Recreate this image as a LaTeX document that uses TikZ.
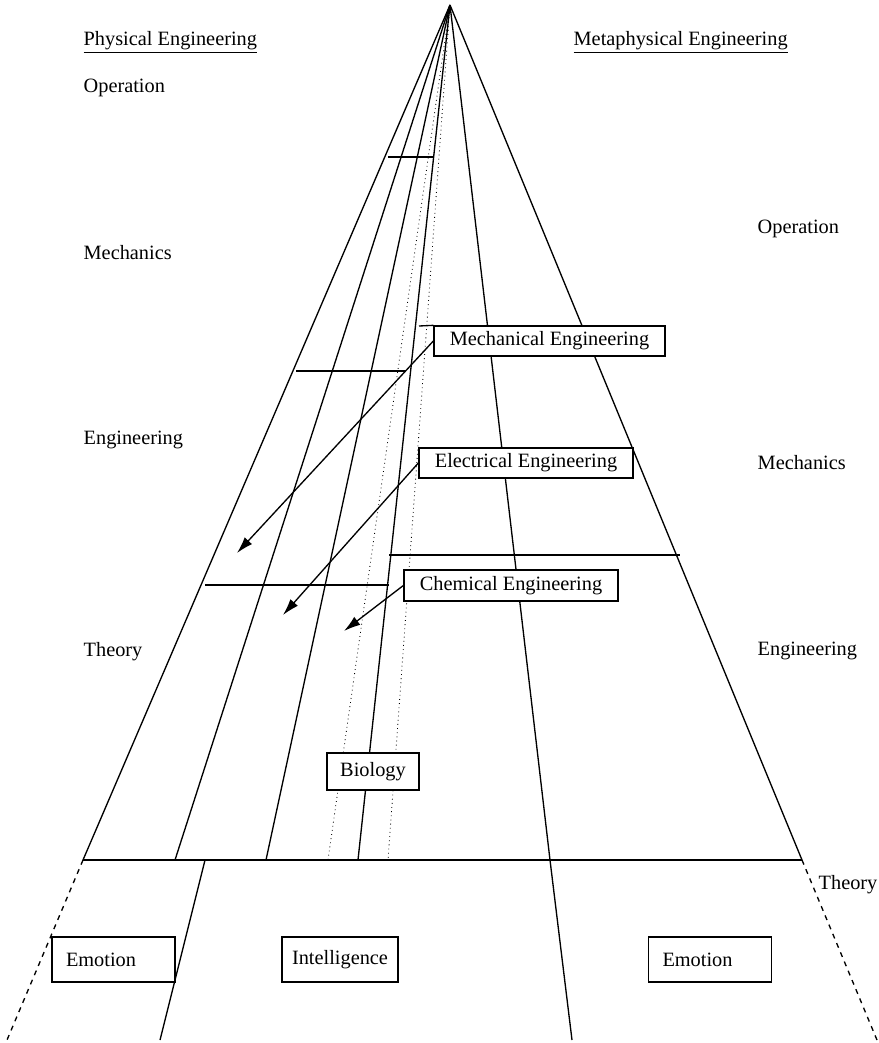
\documentclass[tikz,border=0pt]{standalone}
\usepackage{fontspec}
\setmainfont{Liberation Serif}
\usetikzlibrary{arrows.meta,positioning}

\begin{document}
\begin{tikzpicture}[x=0.6pt,y=-0.6pt,line width=0.8pt,
	every node/.style={font=\fontsize{12.2}{14}\selectfont},
	lbl/.style={anchor=west,inner sep=0pt},
	field/.style={draw,inner sep=0pt,minimum height=18pt},
	feeling/.style={draw,minimum height=27pt,text width=57pt,inner xsep=8.4pt,align=left},
	pointer/.style={-{Latex[length=10pt,width=6pt]}}]
	\useasboundingbox (0,0) rectangle (879,1043);
	\coordinate (apex) at (450,5);
	\foreach \x [count=\i] in {83,175,266,328,358,388,550,802}
	\coordinate (b\i) at (\x,860);
	% fan of the pyramid
	\foreach \i in {1,2,3,5,7,8}
	\draw (apex) -- (b\i);
	\foreach \i in {4,6}
	\draw[dotted,line width=0.5pt] (apex) -- (b\i);
	\draw (b1) -- (b8);
	
	% below the base
	\coordinate (f1) at (7,1040);
	\coordinate (f8) at (877,1040);
	\coordinate (s1) at (205,860);
	\coordinate (t1) at (160,1040);
	\coordinate (t7) at (572,1040);
	\draw[dashed] (b1) -- (f1);
	\draw[dashed] (b8) -- (f8);
	\draw (s1) -- (t1);
	\draw (b7) -- (t7);
	
	% levels
	\coordinate (h1a) at (388,157); \coordinate (h1b) at (434,157);
	\coordinate (h2a) at (296,371); \coordinate (h2b) at (406,371);
	\coordinate (h3a) at (389,555); \coordinate (h3b) at (680,555);
	\coordinate (h4a) at (205,585); \coordinate (h4b) at (389,585);
	\draw (h1a) -- (h1b);
	\draw (h2a) -- (h2b);
	\draw (h3a) -- (h3b);
	\draw (h4a) -- (h4b);
	
	% boxes
	\node[field,fill=white,minimum width=138.6pt] (mech) at (549.5,341) {Mechanical Engineering};
	\node[field,fill=white,minimum width=128.4pt] (elec) at (526,463) {Electrical Engineering};
	\node[field,fill=white,minimum width=128.4pt,minimum height=18.6pt] (chem) at (511,585.5) {Chemical Engineering};
	\node[field,fill=white,minimum width=55.2pt,minimum height=22.2pt] (bio) at (373,771.5) {Biology};
	\coordinate (h0a) at (419,326);
	\draw (h0a) -- (mech.north west);
	
	\node[feeling] (emo1) at (113.5,959.5) {Emotion};
	\node[field,minimum width=69.6pt,minimum height=27pt] (intel) at (340,959.5) {Intelligence};
	\node[feeling] (emo2) at (710,959.5) {Emotion};
	
	% arrows
	\coordinate (p1) at (237,553);
	\coordinate (p2) at (283,615);
	\coordinate (p3) at (344,631);
	\draw[pointer] (mech.west) -- (p1);
	\draw[pointer] (elec.west) -- (p2);
	\draw[pointer] (chem.west) -- (p3);
	
	% headings and labels
	\node[lbl] (phys) at (83,42) {\underline{Physical Engineering}};
	\node[lbl] (meta) at (573,42) {\underline{Metaphysical Engineering}};
	\node[lbl] (lop) at (83,88) {Operation};
	\node[lbl] (lme) at (83,253) {Mechanics};
	\node[lbl] (len) at (83,440) {Engineering};
	\node[lbl] (lth) at (83,652) {Theory};
	\node[lbl] (rop) at (757,229) {Operation};
	\node[lbl] (rme) at (757,463) {Mechanics};
	\node[lbl] (ren) at (757,651) {Engineering};
	\node[lbl] (rth) at (818,885) {Theory};
\end{tikzpicture}
\end{document}
